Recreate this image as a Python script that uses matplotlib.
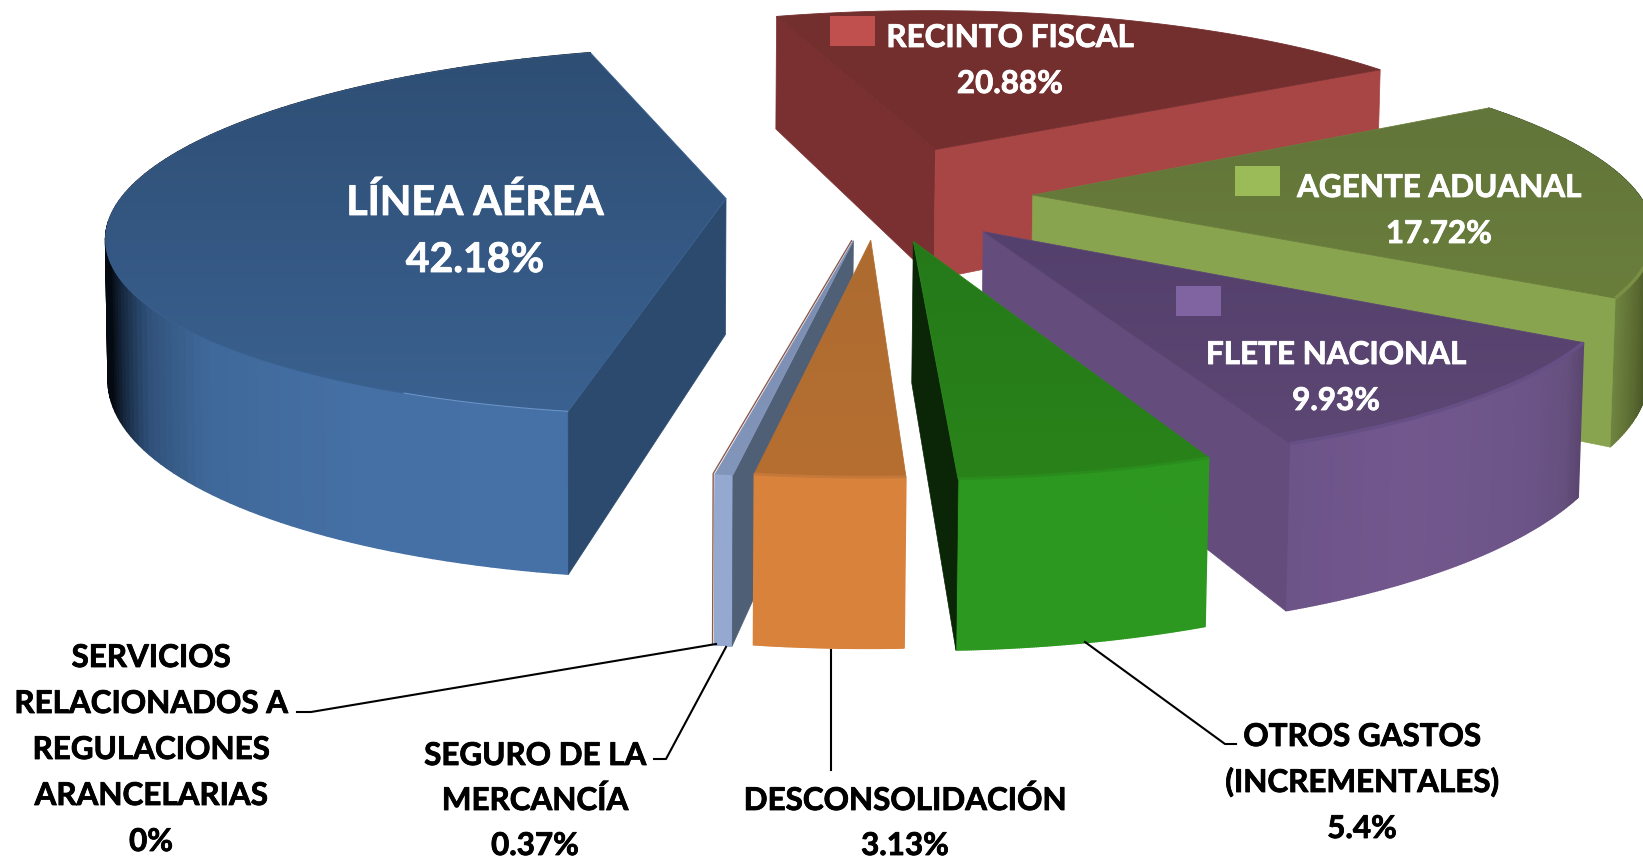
import numpy as np
import matplotlib
matplotlib.use("Agg")
import matplotlib.pyplot as plt
import matplotlib.patheffects as pe
from matplotlib.colors import to_rgb
from matplotlib.patches import Polygon, Rectangle

plt.rcParams['font.family'] = ['Lato', 'DejaVu Sans']

names = ["LÍNEA AÉREA", "RECINTO FISCAL", "AGENTE ADUANAL", "FLETE NACIONAL",
         "OTROS GASTOS\n(INCREMENTALES)", "DESCONSOLIDACIÓN", "SEGURO DE LA\nMERCANCÍA",
         "SERVICIOS\nRELACIONADOS A\nREGULACIONES\nARANCELARIAS"]
values = [42.18, 20.88, 17.72, 9.93, 5.4, 3.13, 0.37, 0]

# camera: pie plane -> screen pixels, for the top and the bottom of the pie
TOP = np.array([[612.81, -112.33, 878.51], [-10.4, 143.24, 195.33], [0.01065, -0.17436, 1]])
BOTTOM = np.array([[612.81, -112.33, 881.44], [-10.4, 143.24, 332.57], [0.01065, -0.17436, 1.0048]])
FIRST_ANGLE = 193.779
explode = [0.252, 0.287, 0.255, 0.259, 0.254, 0.242, 0.248, 0.248]

angles = np.radians(FIRST_ANGLE + np.cumsum([0] + values) * 360 / sum(values))


def unit(t):
    return np.array([np.sin(t), -np.cos(t)])


def project(H, p):
    q = H @ np.array([p[..., 0], p[..., 1], np.ones_like(p[..., 0])])
    return np.stack([q[0] / q[2], q[1] / q[2]], axis=-1)


styles = [
    dict(top=("#2e4e74", "#3a6190"),
         wall=[(0, "#4671a6"), (.12, "#4570a5"), (.24, "#3f6899"), (.31, "#2f5078"), (.36, "#14243a"), (.39, "#050a12"), (1, "#000000")],
         sides=[("s", "#2b4a6e")], rim=(0, .1, "#6a94c8", .8)),
    dict(top=("#732e2e", "#752f2f"), wall=None, sides=[("s", "#7a3030"), ("e", "#a84545")]),
    dict(top=("#62753a", "#6a7e3c"), wall=[(0, "#202812"), (.5, "#202812"), (.75, "#3a4420"), (.9, "#5a6a30"), (1, "#6f8440")],
         sides=[("e", "#89a44f")], rim=(.7, 1, "#7a8f45", 2.5)),
    dict(top=("#54406c", "#5d4774"), wall=[(0, "#5b4670"), (.1, "#65507f"), (.3, "#6c5488"), (.7, "#72578d"), (1, "#6c5388")],
         sides=[("e", "#644d7c")], rim=(0, 1, "#664f85", 2.5)),
    dict(top=("#25791a", "#298319"), wall=[(0, "#2d981f"), (1, "#2d981f")], sides=[("e", "#0a2607")], rim=(0, 1, "#2a8c1c", 2)),
    dict(top=("#ad6b30", "#b66f31"), wall=[(0, "#d9823c"), (1, "#d9823c")], sides=[], rim=(0, 1, "#c4783a", 2)),
    dict(top=("#7a8cb0", "#8295ba"), wall=[(0, "#94a8d0"), (1, "#94a8d0")], sides=[("s", "#4f5f75")]),
]
draw_order = [1, 2, 0, 3, 6, 5, 4]

# label placement: centre x, first baseline y, line pitch, font size, text colour
label_pos = [(475, 215, 57, 29.5, "white"), (1010, 47, 46, 22.6, "white"), (1439, 197, 46, 22.6, "white"),
             (1336, 364, 46, 22.6, "white"), (1362, 746, 46, 22.6, "black"), (905, 810, 45, 22.6, "black"),
             (535, 765, 45, 22.6, "black"), (151, 667, 46, 22.6, "black")]
legend_keys = [((830, 16), "#c0504d"), ((1235, 166), "#9bbb59"), ((1176, 286), "#8064a2")]
leaders = [[(716, 644), (311, 712), (297, 712)], [(726, 647), (666, 759), (654, 759)],
           [(831, 650), (831, 770)], [(1085, 642), (1225, 744), (1236, 744)]]


def mix(stops, t):
    xs = [s[0] for s in stops]
    rgb = np.array([to_rgb(s[1]) for s in stops])
    return [np.interp(t, xs, rgb[:, i]) for i in range(3)]


def gradient_poly(ax, pts, c0, c1, z):
    y0, y1 = pts[:, 1].min(), pts[:, 1].max()
    ramp = np.linspace(0, 1, 200)[:, None, None]
    img = np.array(to_rgb(c0))[None, None, :] * (1 - ramp) + np.array(to_rgb(c1))[None, None, :] * ramp
    im = ax.imshow(img, extent=(pts[:, 0].min(), pts[:, 0].max(), y1, y0), aspect="auto", zorder=z, interpolation="bilinear")
    im.set_clip_path(Polygon(pts, transform=ax.transData))
    ax.add_patch(Polygon(pts, closed=True, fill=False, ec=c1, lw=0.6, zorder=z))


def draw_slice(ax, i, z):
    st = styles[i]
    a0, a1 = angles[i], angles[i + 1]
    off = explode[i] * unit((a0 + a1) / 2)
    ts = np.linspace(a0, a1, 120)
    arc = off + np.array([unit(t) for t in ts])
    top_arc, bot_arc = project(TOP, arc), project(BOTTOM, arc)
    apex, apex_b = project(TOP, off), project(BOTTOM, off)
    if st["wall"]:
        # far quads first so the near part of the wall stays on top
        for k in np.argsort(bot_arc[:-1, 1]):
            col = mix(st["wall"], (k + .5) / (len(ts) - 1))
            ax.add_patch(Polygon([top_arc[k], top_arc[k + 1], bot_arc[k + 1], bot_arc[k]], fc=col, ec=col, lw=1.0, zorder=z))
    for side, col in st["sides"]:
        j = 0 if side == "s" else -1
        ax.add_patch(Polygon([apex, top_arc[j], bot_arc[j], apex_b], fc=col, ec=col, lw=0.5, zorder=z + .1))
    gradient_poly(ax, np.vstack([apex, top_arc]), *st["top"], z + .2)
    if st.get("rim"):
        f0, f1, col, lw = st["rim"]
        n = len(ts) - 1
        part = top_arc[int(f0 * n):int(f1 * n) + 1]
        ax.plot(part[:, 0], part[:, 1], color=col, lw=lw, zorder=z + .3, solid_capstyle="butt")


fig = plt.figure(figsize=(16.43, 8.58), dpi=100)
ax = fig.add_axes([0, 0, 1, 1])

for n, i in enumerate(draw_order):
    if i == 5:  # the 0 % slice is only an edge, behind the orange one
        off = explode[7] * unit(angles[7])
        edge = off + unit(angles[7])
        line = np.array([project(BOTTOM, edge), project(TOP, edge), project(TOP, off)])
        ax.plot(line[:, 0], line[:, 1], color="#8a5a50", lw=1, zorder=n + .5)
    draw_slice(ax, i, n + 1)

for pts in leaders:
    xs, ys = zip(*pts)
    ax.plot(xs, ys, color="black", lw=1.5, zorder=20)

for (xy, col) in legend_keys:
    ax.add_patch(Rectangle(xy, 45, 30, fc=col, ec="none", zorder=21))

for name, val, (x, y, pitch, size, col) in zip(names, values, label_pos):
    for k, line in enumerate(name.split("\n") + [f"{val:g}%"]):
        ax.text(x, y + k * pitch, line, ha="center", va="baseline", fontsize=size, fontweight="bold", color=col, zorder=22,
                path_effects=[pe.withStroke(linewidth=0.6, foreground=col)])

ax.set_xlim(0, 1643)
ax.set_ylim(858, 0)
ax.axis("off")
fig.savefig("out.png", dpi=100)
